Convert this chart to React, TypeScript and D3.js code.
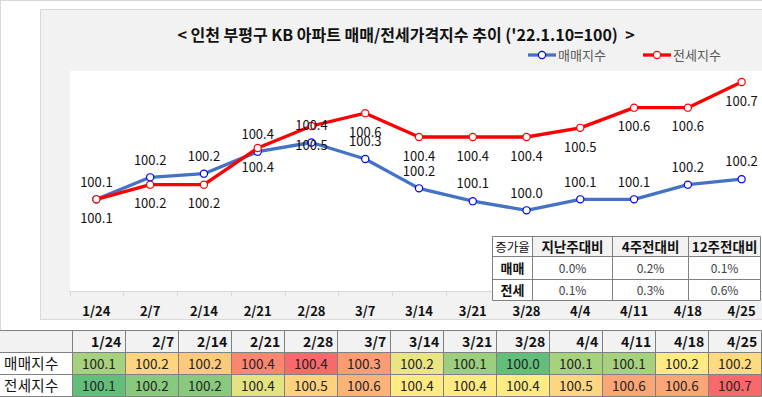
import { useEffect, useRef } from "react";
import * as d3 from "d3";

const weeks = ["1/24", "2/7", "2/14", "2/21", "2/28", "3/7", "3/14", "3/21", "3/28", "4/4", "4/11", "4/18", "4/25"];
const saleIndex = [100.1, 100.22, 100.24, 100.36, 100.41, 100.32, 100.16, 100.09, 100.04, 100.1, 100.1, 100.18, 100.21];
const jeonseIndex = [100.1, 100.18, 100.18, 100.38, 100.5, 100.57, 100.44, 100.44, 100.44, 100.49, 100.6, 100.6, 100.74];
const seriesNames = ["매매지수", "전세지수"];
const rateHeaders = ["증가율", "지난주대비", "4주전대비", "12주전대비"];
const rateRows = ["매매", "전세"];
const saleRates = ["0.0%", "0.2%", "0.1%"];
const jeonseRates = ["0.1%", "0.3%", "0.6%"];
const title = "< 인천 부평구 KB 아파트 매매/전세가격지수 추이 ('22.1.10=100)  >";

const W = 762;
const H = 397;
const FONT = "'Noto Sans CJK KR', 'Noto Sans', sans-serif";

export default function App() {
  const ref = useRef<SVGSVGElement | null>(null);

  useEffect(() => {
    const svg = d3.select(ref.current);
    svg.selectAll("*").remove();
    svg.attr("font-family", FONT);

    // page frame
    svg.append("rect").attr("width", W).attr("height", H).attr("fill", "#fff");
    svg.append("line").attr("x1", 0).attr("x2", W).attr("y1", 0.5).attr("y2", 0.5).attr("stroke", "#d9d9d9");
    svg.append("line").attr("x1", 0.5).attr("x2", 0.5).attr("y1", 0).attr("y2", 330).attr("stroke", "#d9d9d9");

    // chart area
    svg.append("rect")
      .attr("x", 40.5).attr("y", 9.5).attr("width", 740).attr("height", 310)
      .attr("fill", "#f2f2f2").attr("stroke", "#d9d9d9");

    const plot = { left: 70, top: 71, right: 770, bottom: 291 };
    svg.append("rect")
      .attr("x", plot.left).attr("y", plot.top)
      .attr("width", plot.right - plot.left).attr("height", plot.bottom - plot.top)
      .attr("fill", "#fff");

    svg.append("text")
      .attr("x", 406).attr("y", 41)
      .attr("text-anchor", "middle")
      .attr("font-size", 16).attr("font-weight", 700).attr("fill", "#111")
      .attr("xml:space", "preserve")
      .text(title);

    const x = d3.scaleBand<string>().domain(weeks).range([69.5, 768.5]);
    const y = d3.scaleLinear().domain([99.6, 100.8]).range([plot.bottom, plot.top]);
    const cx = (w: string) => (x(w) ?? 0) + x.bandwidth() / 2;

    // x axis
    svg.append("line")
      .attr("x1", 69.5).attr("x2", W).attr("y1", 291.5).attr("y2", 291.5)
      .attr("stroke", "#d9d9d9");
    svg.append("g").selectAll("line").data(weeks).enter().append("line")
      .attr("x1", (d) => Math.round(x(d) ?? 0) + 0.5)
      .attr("x2", (d) => Math.round(x(d) ?? 0) + 0.5)
      .attr("y1", 291.5).attr("y2", 296.5)
      .attr("stroke", "#d9d9d9");
    svg.append("g").selectAll("text").data(weeks).enter().append("text")
      .attr("x", (d) => cx(d)).attr("y", 316)
      .attr("text-anchor", "middle")
      .attr("font-size", 13).attr("font-weight", 700).attr("fill", "#111")
      .text((d) => d);

    const fmt = d3.format(".1f");
    const series = [
      { name: seriesNames[0], values: saleIndex, line: "#4472c4", mark: "#0000ff", dy: -12.8 },
      { name: seriesNames[1], values: jeonseIndex, line: "#ff0000", mark: "#ff0000", dy: 23.8 },
    ];

    const line = d3.line<number>()
      .x((_, i) => cx(weeks[i]))
      .y((d) => y(d));

    series.forEach((s) => {
      svg.append("path")
        .datum(s.values)
        .attr("fill", "none")
        .attr("stroke", s.line)
        .attr("stroke-width", 3.3)
        .attr("stroke-linejoin", "round")
        .attr("d", line);
      svg.append("g").selectAll("circle").data(s.values).enter().append("circle")
        .attr("cx", (_, i) => cx(weeks[i]))
        .attr("cy", (d) => y(d))
        .attr("r", 3.6)
        .attr("fill", "#fff")
        .attr("stroke", s.mark)
        .attr("stroke-width", 1.2);
    });

    series.forEach((s) => {
      svg.append("g").selectAll("text").data(s.values).enter().append("text")
        .attr("x", (_, i) => cx(weeks[i]))
        .attr("y", (d) => y(d) + s.dy)
        .attr("text-anchor", "middle")
        .attr("font-size", 13).attr("fill", "#111")
        .text((d) => fmt(d));
    });

    // legend
    const legendX = [528, 643];
    series.forEach((s, i) => {
      const lg = svg.append("g").attr("transform", `translate(${legendX[i]},55)`);
      lg.append("line").attr("x1", 0).attr("x2", 28).attr("y1", 0).attr("y2", 0)
        .attr("stroke", s.line).attr("stroke-width", 3.3);
      lg.append("circle").attr("cx", 14).attr("cy", 0).attr("r", 3.6)
        .attr("fill", "#fff").attr("stroke", s.mark).attr("stroke-width", 1.2);
      lg.append("text").attr("x", 30).attr("y", 5)
        .attr("font-size", 13).attr("fill", "#595959")
        .text(s.name);
    });

    // inset rate table
    const colX = [492.5, 532.5, 612.5, 688.5, 760.5];
    const rowY = [236.5, 256.5, 279.5, 300.5];
    const rateData = [saleRates, jeonseRates];
    const inset = svg.append("g");
    rateHeaders.forEach((h, j) => {
      inset.append("rect")
        .attr("x", colX[j]).attr("y", rowY[0])
        .attr("width", colX[j + 1] - colX[j]).attr("height", rowY[1] - rowY[0])
        .attr("fill", j === 0 ? "#fff" : "#f2f2f2");
      inset.append("text")
        .attr("x", (colX[j] + colX[j + 1]) / 2).attr("y", rowY[0] + 15)
        .attr("text-anchor", "middle")
        .attr("font-size", j === 0 ? 12.5 : 13.5)
        .attr("font-weight", j === 0 ? 400 : 700)
        .attr("fill", "#111")
        .text(h);
    });
    rateRows.forEach((r, i) => {
      const top = rowY[i + 1];
      const bottom = rowY[i + 2];
      inset.append("rect")
        .attr("x", colX[0]).attr("y", top)
        .attr("width", colX[4] - colX[0]).attr("height", bottom - top)
        .attr("fill", "#fff");
      inset.append("text")
        .attr("x", (colX[0] + colX[1]) / 2).attr("y", (top + bottom) / 2 + 5)
        .attr("text-anchor", "middle")
        .attr("font-size", 13).attr("font-weight", 700).attr("fill", "#111")
        .text(r);
      rateData[i].forEach((v, j) => {
        inset.append("text")
          .attr("x", (colX[j + 1] + colX[j + 2]) / 2).attr("y", (top + bottom) / 2 + 4.5)
          .attr("text-anchor", "middle")
          .attr("font-size", 12).attr("fill", "#404040")
          .text(v);
      });
    });
    colX.forEach((cxv) => {
      inset.append("line").attr("x1", cxv).attr("x2", cxv)
        .attr("y1", rowY[0]).attr("y2", rowY[3]).attr("stroke", "#808080");
    });
    rowY.forEach((ry) => {
      inset.append("line").attr("x1", colX[0]).attr("x2", colX[4])
        .attr("y1", ry).attr("y2", ry).attr("stroke", "#808080");
    });

    // bottom data table
    const tx = d3.scaleBand<string>().domain(weeks).range([72.3, 761.3]);
    const tRows = [330.5, 352.5, 374.5, 396.5];
    const table = svg.append("g");
    table.append("rect").attr("x", 0).attr("y", tRows[0])
      .attr("width", 761.3).attr("height", tRows[1] - tRows[0]).attr("fill", "#f2f2f2");
    table.selectAll("text.head").data(weeks).enter().append("text")
      .attr("x", (d) => (tx(d) ?? 0) + tx.bandwidth() - 4)
      .attr("y", tRows[0] + 16.5)
      .attr("text-anchor", "end")
      .attr("font-size", 14).attr("font-weight", 700).attr("fill", "#111")
      .text((d) => d);

    [saleIndex, jeonseIndex].forEach((vals, i) => {
      const top = tRows[i + 1];
      const bottom = tRows[i + 2];
      const color = d3.scaleLinear<string>()
        .domain([d3.min(vals)!, d3.median(vals)!, d3.max(vals)!])
        .range(["#63be7b", "#ffeb84", "#f8696b"])
        .interpolate(d3.interpolateRgb);
      table.append("text")
        .attr("x", 4).attr("y", (top + bottom) / 2 + 5.5)
        .attr("font-size", 14.5).attr("fill", "#111")
        .attr("letter-spacing", 0.3)
        .text(seriesNames[i]);
      vals.forEach((v, j) => {
        const left = tx(weeks[j]) ?? 0;
        table.append("rect")
          .attr("x", left).attr("y", top)
          .attr("width", tx.bandwidth()).attr("height", bottom - top)
          .attr("fill", color(v));
        table.append("text")
          .attr("x", left + tx.bandwidth() / 2).attr("y", (top + bottom) / 2 + 5)
          .attr("text-anchor", "middle")
          .attr("font-size", 13.5).attr("fill", "#222")
          .text(fmt(v));
      });
    });
    const edges = [72.3, ...weeks.map((w) => (tx(w) ?? 0) + tx.bandwidth())];
    edges.forEach((e) => {
      const ex = Math.round(e) + 0.5;
      table.append("line").attr("x1", ex).attr("x2", ex)
        .attr("y1", tRows[0]).attr("y2", tRows[3]).attr("stroke", "#808080");
    });
    tRows.forEach((ry) => {
      table.append("line").attr("x1", 0).attr("x2", 761.3)
        .attr("y1", ry).attr("y2", ry).attr("stroke", "#808080");
    });
  }, []);

  return (
    <svg
      ref={ref}
      width={W}
      height={H}
      style={{ position: "absolute", left: 0, top: 0, display: "block" }}
    />
  );
}
